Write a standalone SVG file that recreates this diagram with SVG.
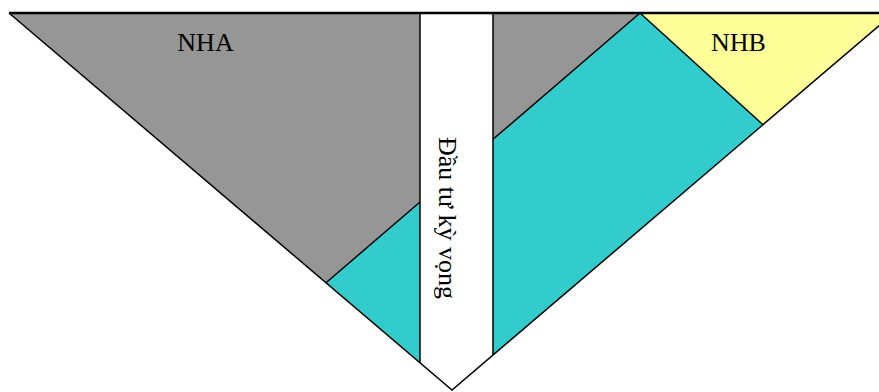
<svg xmlns="http://www.w3.org/2000/svg" width="879" height="392" viewBox="0 0 879 392">
<style>
.edge{stroke:#000;stroke-width:1.5;fill:none}
.lbl{font-family:"Liberation Serif","Times New Roman",serif;font-size:26px;fill:#000}
</style>
<rect width="879" height="392" fill="#fff"/>
<g id="NHA">
<polygon points="9,13 640,13 326,282.8" fill="#969696"/>
<text class="lbl" x="205.5" y="51" text-anchor="middle">NHA</text>
</g>
<g id="NHB">
<polygon points="640,13 894,13 763,124.7" fill="#ffff99"/>
<text class="lbl" x="738.5" y="51" text-anchor="middle">NHB</text>
</g>
<g id="cyan">
<polygon points="640,13 763,124.7 493,355 493,139.3" fill="#33cccc"/>
<polygon points="420,202 326,282.8 420,362.8" fill="#33cccc"/>
</g>
<g id="strip">
<polygon points="420,13 493,13 493,355 452,390 420,362.8" fill="#fff"/>
<text class="lbl" transform="translate(439,218) rotate(90)" text-anchor="middle" font-size="26.5">Đầu tư kỳ vọng</text>
</g>
<g id="connectors">
<polyline class="edge" points="9,13 452,390 894,13"/>
<line class="edge" x1="640" y1="13" x2="493" y2="139.3"/>
<line class="edge" x1="420" y1="202" x2="326" y2="282.8"/>
<line class="edge" x1="640" y1="13" x2="763" y2="124.7"/>
<line class="edge" x1="420" y1="13" x2="420" y2="362.8"/>
<line class="edge" x1="493" y1="13" x2="493" y2="355"/>
<line x1="9" y1="13" x2="879" y2="13" stroke="#000" stroke-width="2.5"/>
</g>
</svg>
